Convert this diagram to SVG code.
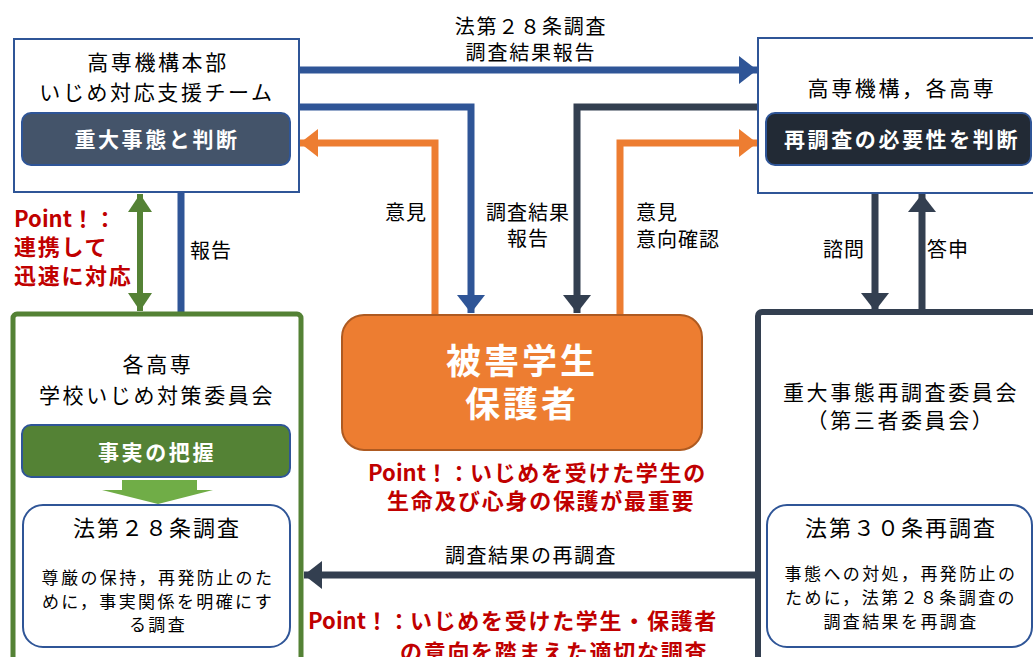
<svg xmlns="http://www.w3.org/2000/svg" width="1033" height="657" viewBox="0 0 1033 657">
<style>
text{font-family:"Noto Sans CJK JP","Noto Sans",sans-serif;}
.t{font-size:21px;fill:#000;text-anchor:middle;letter-spacing:2.6px;}
.lb{font-size:20px;fill:#000;letter-spacing:1px;}
.wb{font-size:21px;fill:#fff;font-weight:bold;text-anchor:middle;letter-spacing:2.6px;}
.red{font-size:22px;fill:#c00000;font-weight:bold;letter-spacing:1.7px;}
.pt{letter-spacing:0;}
.body{font-size:17px;fill:#000;text-anchor:middle;letter-spacing:2.4px;}
.tt{font-size:22px;fill:#000;text-anchor:middle;letter-spacing:2px;}
.blue{stroke:#2f5597;stroke-width:7;fill:none;}
.navy{stroke:#333f50;stroke-width:7;fill:none;}
.orng{stroke:#ed7d31;stroke-width:7;fill:none;}
.grn{stroke:#548235;stroke-width:6;fill:none;}
</style>
<defs>
<marker id="hb" markerUnits="userSpaceOnUse" markerWidth="20" markerHeight="28" refX="18" refY="14" orient="auto"><path d="M0,0 L18,14 L0,28 z" fill="#2f5597"/></marker>
<marker id="hn" markerUnits="userSpaceOnUse" markerWidth="20" markerHeight="28" refX="18" refY="14" orient="auto"><path d="M0,0 L18,14 L0,28 z" fill="#333f50"/></marker>
<marker id="ho" markerUnits="userSpaceOnUse" markerWidth="20" markerHeight="28" refX="18" refY="14" orient="auto"><path d="M0,0 L18,14 L0,28 z" fill="#ed7d31"/></marker>
<marker id="hg" markerUnits="userSpaceOnUse" markerWidth="20" markerHeight="24" refX="18" refY="12" orient="auto-start-reverse"><path d="M0,0 L18,12 L0,24 z" fill="#548235"/></marker>
</defs>

<g id="connectors">
<path class="blue" d="M299,70 L757,70" marker-end="url(#hb)"/>
<path class="blue" d="M299,107 L471,107 L471,313" marker-end="url(#hb)"/>
<path class="navy" d="M758,107 L577,107 L577,313" marker-end="url(#hn)"/>
<path class="orng" d="M435,315 L435,143 L300,143" marker-end="url(#ho)"/>
<path class="orng" d="M620,315 L620,143 L757,143" marker-end="url(#ho)"/>
<path class="blue" d="M181,312 L181,166" marker-end="url(#hb)"/>
<path class="grn" d="M140,194 L140,311" marker-start="url(#hg)" marker-end="url(#hg)"/>
<path class="navy" d="M875,165 L875,311" marker-end="url(#hn)"/>
<path class="navy" d="M922,312 L922,194" marker-end="url(#hn)"/>
<path class="navy" d="M758,575 L304,575" marker-end="url(#hn)"/>
<text class="t" x="531" y="34" style="font-size:20px;letter-spacing:1.8px">法第２８条調査</text>
<text class="t" x="531" y="60" style="font-size:20px;letter-spacing:1.8px">調査結果報告</text>
<text class="lb" x="385" y="220">意見</text>
<text class="lb" x="528" y="220" text-anchor="middle">調査結果</text>
<text class="lb" x="528" y="246" text-anchor="middle">報告</text>
<text class="lb" x="636" y="220">意見</text>
<text class="lb" x="636" y="247">意向確認</text>
<text class="lb" x="190" y="258">報告</text>
<text class="lb" x="823" y="257">諮問</text>
<text class="lb" x="927" y="257">答申</text>
<text class="lb" x="531" y="563" text-anchor="middle" style="letter-spacing:1.5px">調査結果の再調査</text>
</g>

<g id="honbu">
<rect x="14" y="39" width="285" height="153" fill="#fff" stroke="#2f5597" stroke-width="2"/>
<text class="t" x="158" y="70">高専機構本部</text>
<text class="t" x="157" y="100">いじめ対応支援チーム</text>
<rect x="22" y="113" width="268" height="52" rx="9" fill="#44546a" stroke="#2f5597" stroke-width="2"/>
<text class="wb" x="157" y="147">重大事態と判断</text>
</g>

<g id="kosen">
<rect x="758" y="38" width="285" height="155" fill="#fff" stroke="#2f5597" stroke-width="2"/>
<text class="t" x="902" y="96">高専機構，各高専</text>
<rect x="766" y="113" width="265" height="52" rx="9" fill="#222a35" stroke="#2f5597" stroke-width="2"/>
<text class="wb" x="902" y="147">再調査の必要性を判断</text>
</g>

<g id="higai">
<rect x="342" y="315" width="360" height="135" rx="22" fill="#ed7d31" stroke="#ae5a21" stroke-width="2"/>
<text x="522" y="374" style="font-size:35px;fill:#fff;font-weight:bold;text-anchor:middle;letter-spacing:3px">被害学生</text>
<text x="522" y="417" style="font-size:35px;fill:#fff;font-weight:bold;text-anchor:middle;letter-spacing:3px">保護者</text>
</g>

<g id="point-center">
<text class="red" x="368" y="481"><tspan class="pt">Point！：</tspan>いじめを受けた学生の</text>
<text class="red" x="387" y="509">生命及び心身の保護が最重要</text>
</g>

<g id="point-left">
<text class="red" x="14" y="227"><tspan class="pt">Point！：</tspan></text>
<text class="red" x="14" y="255">連携して</text>
<text class="red" x="14" y="284">迅速に対応</text>
</g>

<g id="gakko">
<rect x="13" y="314" width="288" height="360" rx="4" fill="#fff" stroke="#548235" stroke-width="5"/>
<text class="t" x="158" y="372">各高専</text>
<text class="t" x="157" y="403">学校いじめ対策委員会</text>
<rect x="22" y="425" width="268" height="52" rx="9" fill="#548235" stroke="#2f5597" stroke-width="2"/>
<text class="wb" x="157" y="460">事実の把握</text>
<path d="M122,480 L197,480 L197,490 L213,490 L158,504 L102,490 L122,490 z" fill="#70ad47"/>
<rect x="23" y="505" width="267" height="142" rx="20" fill="#fff" stroke="#2f5597" stroke-width="2"/>
<text class="tt" x="157" y="536">法第２８条調査</text>
<text class="body" x="158" y="584">尊厳の保持，再発防止のた</text>
<text class="body" x="158" y="608">めに，事実関係を明確にす</text>
<text class="body" x="158" y="631">る調査</text>
</g>

<g id="saichousa">
<rect x="758" y="312" width="300" height="360" rx="4" fill="#fff" stroke="#333f50" stroke-width="6"/>
<text class="t" x="901" y="400">重大事態再調査委員会</text>
<text class="t" x="901" y="428">（第三者委員会）</text>
<rect x="767" y="505" width="265" height="142" rx="20" fill="#fff" stroke="#2f5597" stroke-width="2"/>
<text class="tt" x="901" y="536">法第３０条再調査</text>
<text class="body" x="901" y="580">事態への対処，再発防止の</text>
<text class="body" x="901" y="604">ために，法第２８条調査の</text>
<text class="body" x="901" y="628">調査結果を再調査</text>
</g>

<g id="point-bottom">
<text class="red" x="308" y="629"><tspan class="pt">Point！：</tspan>いじめを受けた学生・保護者</text>
<text class="red" x="400" y="660">の意向を踏まえた適切な調査</text>
</g>
</svg>
